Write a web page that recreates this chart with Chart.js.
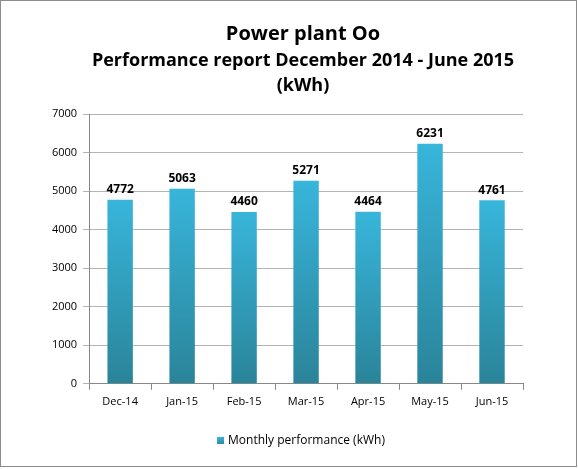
<!DOCTYPE html>
<html>
<head>
<meta charset="utf-8">
<script src="https://cdn.jsdelivr.net/npm/chart.js@4/dist/chart.umd.min.js"></script>
<style>
  body { margin: 0; background: #fff; }
  #wrap { width: 575px; height: 465px; border: 1px solid #8c8c8c; position: relative; }
</style>
</head>
<body>
<div id="wrap"><canvas id="chart"></canvas></div>
<script>
// Chart data
const months = ["Dec-14", "Jan-15", "Feb-15", "Mar-15", "Apr-15", "May-15", "Jun-15"];
const performance = [4772, 5063, 4460, 5271, 4464, 6231, 4761];
const yTicks = [0, 1000, 2000, 3000, 4000, 5000, 6000, 7000];
const titleLines = ["Power plant Oo", "Performance report December 2014 - June 2015", "(kWh)"];
const seriesName = "Monthly performance (kWh)";

const fontFamily = "'Open Sans', 'Noto Sans', sans-serif";

// Gradient per bar: light top, dark bottom
function barGradient(ctx) {
    const chart = ctx.chart;
    const y = chart.scales.y;
    if (!y || !ctx.parsed) return "#33a9cc";
    const top = y.getPixelForValue(ctx.parsed.y);
    const bottom = y.getPixelForValue(0);
    if (!isFinite(top) || !isFinite(bottom) || top === bottom) return "#33a9cc";
    const g = chart.ctx.createLinearGradient(0, top, 0, bottom);
    g.addColorStop(0, "#38b5db");
    g.addColorStop(1, "#2a8499");
    return g;
}

// Title block and legend (centred a bit right of the canvas middle, like the original)
const titleBlock = {
    id: "titleBlock",
    afterDraw(chart) {
        const ctx = chart.ctx;
        const cx = 302;
        ctx.save();
        ctx.fillStyle = "#000";
        ctx.textAlign = "center";
        ctx.textBaseline = "middle";
        ctx.font = "bold 20px " + fontFamily;
        ctx.fillText(titleLines[0], cx, 33);
        ctx.font = "bold 18px " + fontFamily;
        ctx.fillText(titleLines[1], cx, 60);
        ctx.fillText(titleLines[2], cx, 85);

        // legend
        ctx.font = "12px " + fontFamily;
        const tw = ctx.measureText(seriesName).width;
        const total = 7 + 4 + tw;
        const lx = 300 - total / 2;
        const ly = 440;
        const g = ctx.createLinearGradient(0, ly - 4, 0, ly + 4);
        g.addColorStop(0, "#38b5db");
        g.addColorStop(1, "#2a8499");
        ctx.fillStyle = g;
        ctx.fillRect(lx, ly - 4, 7, 7);
        ctx.fillStyle = "#000";
        ctx.textAlign = "left";
        ctx.fillText(seriesName, lx + 11, ly);
        ctx.restore();
    }
};

// Value labels above each bar
const valueLabels = {
    id: "valueLabels",
    afterDatasetsDraw(chart) {
        const ctx = chart.ctx;
        const meta = chart.getDatasetMeta(0);
        ctx.save();
        ctx.font = "bold 12px " + fontFamily;
        ctx.fillStyle = "#000";
        ctx.textAlign = "center";
        ctx.textBaseline = "bottom";
        meta.data.forEach((bar, i) => {
            ctx.fillText(performance[i], bar.x, bar.y - 4);
        });
        ctx.restore();
    }
};

new Chart(document.getElementById("chart"), {
    type: "bar",
    data: {
        labels: months,
        datasets: [{
            label: seriesName,
            data: performance,
            backgroundColor: barGradient,
            borderWidth: 0,
            barPercentage: 0.41,
            categoryPercentage: 1.0
        }]
    },
    options: {
        responsive: true,
        maintainAspectRatio: false,
        animation: false,
        layout: { padding: { left: 45, right: 53, top: 113, bottom: 53 } },
        plugins: {
            title: { display: false },
            legend: { display: false },
            tooltip: { enabled: false }
        },
        scales: {
            x: {
                grid: {
                    drawOnChartArea: false,
                    color: "#888",
                    tickLength: 6,
                    offset: true
                },
                border: { color: "#888" },
                ticks: {
                    color: "#000",
                    font: { family: fontFamily, size: 11 },
                    padding: 5,
                    maxRotation: 0
                }
            },
            y: {
                min: 0,
                max: 7000,
                afterBuildTicks(scale) {
                    scale.ticks = yTicks.map(v => ({ value: v }));
                },
                grid: {
                    color: "#b3b3b3",
                    tickLength: 6
                },
                border: { color: "#888" },
                ticks: {
                    color: "#000",
                    font: { family: fontFamily, size: 11 },
                    padding: 6,
                    callback: v => String(v)
                }
            }
        }
    },
    plugins: [valueLabels, titleBlock]
});
</script>
</body>
</html>
